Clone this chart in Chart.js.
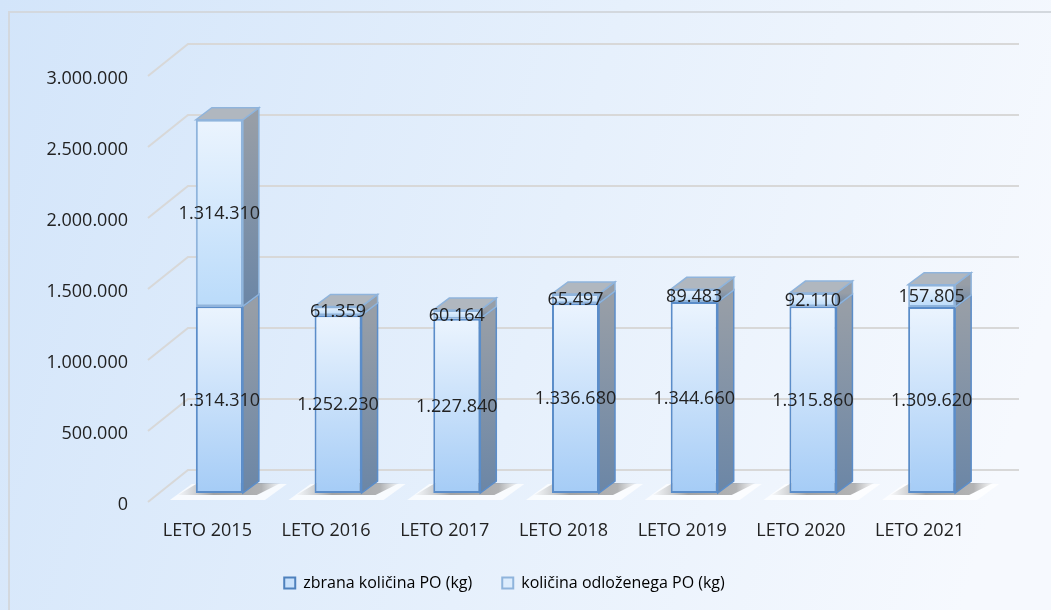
<!DOCTYPE html>
<html>
<head>
<meta charset="utf-8">
<script src="https://cdn.jsdelivr.net/npm/chart.js@4.4.1/dist/chart.umd.min.js"></script>
<style>
  html, body { margin: 0; padding: 0; background: #e3eefb; }
  #wrap { width: 1051px; height: 610px; }
</style>
</head>
<body>
<div id="wrap"><canvas id="myChart" width="1051" height="610"></canvas></div>
<script>
const categories = ['LETO 2015', 'LETO 2016', 'LETO 2017', 'LETO 2018', 'LETO 2019', 'LETO 2020', 'LETO 2021'];
const zbrana = [1314310, 1252230, 1227840, 1336680, 1344660, 1315860, 1309620];
const odlozeno = [1314310, 61359, 60164, 65497, 89483, 92110, 157805];
const yTicks = [0, 500000, 1000000, 1500000, 2000000, 2500000, 3000000];

// depth of the fake 3d
const DX = 16, DY = -12;

function fmt(v) {
  return String(v).replace(/\B(?=(\d{3})+(?!\d))/g, '.');
}

function segFill(c, top, bottom) {
  const chart = c.chart;
  const y = chart.scales.y;
  if (!chart.chartArea || !y) return bottom;
  const i = c.dataIndex;
  let lo = 0, hi = zbrana[i];
  if (c.datasetIndex === 1) { lo = zbrana[i]; hi = zbrana[i] + odlozeno[i]; }
  const g = chart.ctx.createLinearGradient(0, y.getPixelForValue(hi), 0, y.getPixelForValue(lo));
  g.addColorStop(0, top);
  g.addColorStop(1, bottom);
  return g;
}

const bgPlugin = {
  id: 'bg',
  afterLayout(chart) {
    // legend sits a bit right of centre in the original
    if (chart.legend) { chart.legend.left += 9; chart.legend.right += 9; }
  },
  beforeDraw(chart) {
    const ctx = chart.ctx;
    const g = ctx.createLinearGradient(0, 0, 1051, 300);
    g.addColorStop(0, '#d3e5fa');
    g.addColorStop(0.55, '#e6f0fc');
    g.addColorStop(1, '#f6f9fe');
    ctx.save();
    ctx.fillStyle = g;
    ctx.fillRect(0, 0, chart.width, chart.height);
    ctx.strokeStyle = '#d3d8de';
    ctx.lineWidth = 2;
    ctx.strokeRect(9, 12, chart.width + 20, chart.height + 20);
    ctx.restore();
  }
};

const box3d = {
  id: 'box3d',
  beforeDatasetsDraw(chart) {
    const ctx = chart.ctx;
    const a = chart.chartArea;
    const y = chart.scales.y;
    ctx.save();
    // back wall grid
    ctx.strokeStyle = '#d8d8d8';
    ctx.lineWidth = 2;
    y.ticks.forEach(t => {
      const py = y.getPixelForValue(t.value);
      ctx.beginPath();
      ctx.moveTo(a.left - 12, py + 9);
      ctx.lineTo(a.left + 28, py - 23);
      ctx.lineTo(a.right + 28, py - 23);
      ctx.stroke();
    });
    // floor shadows
    const m0 = chart.getDatasetMeta(0);
    m0.data.forEach(el => {
      const l = el.x - el.width / 2, r = el.x + el.width / 2, b = el.base;
      ctx.fillStyle = 'rgba(255,255,255,0.75)';
      ctx.beginPath();
      ctx.moveTo(l - 26, b + 7);
      ctx.lineTo(r + 22, b + 7);
      ctx.lineTo(r + 44, b - 9);
      ctx.lineTo(l - 4, b - 9);
      ctx.closePath();
      ctx.fill();
      const sg = ctx.createLinearGradient(l - 20, 0, r + 40, 0);
      sg.addColorStop(0, 'rgba(120,120,120,0)');
      sg.addColorStop(0.35, 'rgba(90,90,90,0.55)');
      sg.addColorStop(0.8, 'rgba(90,90,90,0.45)');
      sg.addColorStop(1, 'rgba(120,120,120,0)');
      ctx.fillStyle = sg;
      ctx.beginPath();
      ctx.moveTo(l - 18, b + 2);
      ctx.lineTo(r + 14, b + 2);
      ctx.lineTo(r + 38, b - 10);
      ctx.lineTo(l + 2, b - 10);
      ctx.closePath();
      ctx.fill();
    });
    // side and top faces
    const n = chart.data.datasets.length;
    for (let d = 0; d < n; d++) {
      const meta = chart.getDatasetMeta(d);
      meta.data.forEach(el => {
        const l = el.x - el.width / 2, r = el.x + el.width / 2;
        const t = el.y, b = el.base;
        const sg = ctx.createLinearGradient(0, t, 0, b);
        sg.addColorStop(0, '#979ea7');
        sg.addColorStop(1, '#6b86a6');
        ctx.fillStyle = sg;
        ctx.strokeStyle = d === 0 ? '#5b8dc9' : '#8fb4dc';
        ctx.lineWidth = 1.5;
        ctx.beginPath();
        ctx.moveTo(r, t);
        ctx.lineTo(r + DX, t + DY);
        ctx.lineTo(r + DX, b + DY);
        ctx.lineTo(r, b);
        ctx.closePath();
        ctx.fill();
        ctx.stroke();
        if (d === n - 1) {
          ctx.fillStyle = '#b0b7bf';
          ctx.strokeStyle = '#8fb4dc';
          ctx.beginPath();
          ctx.moveTo(l, t);
          ctx.lineTo(l + DX, t + DY);
          ctx.lineTo(r + DX, t + DY);
          ctx.lineTo(r, t);
          ctx.closePath();
          ctx.fill();
          ctx.stroke();
        }
      });
    }
    ctx.restore();
  },
  afterDatasetsDraw(chart) {
    const ctx = chart.ctx;
    ctx.save();
    ctx.font = "18px 'Open Sans', sans-serif";
    ctx.fillStyle = '#222';
    ctx.textAlign = 'center';
    ctx.textBaseline = 'middle';
    chart.data.datasets.forEach((ds, d) => {
      chart.getDatasetMeta(d).data.forEach((el, i) => {
        ctx.fillText(fmt(ds.data[i]), el.x, (el.y + el.base) / 2 + 1);
      });
    });
    ctx.restore();
  }
};

Chart.defaults.font.family = "'Open Sans', sans-serif";
Chart.defaults.color = '#222';

new Chart('myChart', {
  type: 'bar',
  data: {
    labels: categories,
    datasets: [{
      label: 'zbrana količina PO (kg)',
      data: zbrana,
      backgroundColor: c => segFill(c, '#ebf4fe', '#a5ccf6'),
      borderColor: '#5b8dc9',
      borderWidth: 2,
      borderSkipped: false,
      barPercentage: 0.396,
      categoryPercentage: 1
    }, {
      label: 'količina odloženega PO (kg)',
      data: odlozeno,
      backgroundColor: c => segFill(c, '#ebf4fe', '#badbfa'),
      borderColor: '#8fb4dc',
      borderWidth: 2,
      borderSkipped: false,
      barPercentage: 0.396,
      categoryPercentage: 1
    }]
  },
  options: {
    responsive: false,
    animation: false,
    devicePixelRatio: 1,
    layout: { padding: { top: 67, right: 60, bottom: 9, left: 0 } },
    scales: {
      x: {
        stacked: true,
        grid: { display: false },
        border: { display: false },
        ticks: { font: { size: 18 }, padding: 19, labelOffset: -12, maxRotation: 0 },
        afterFit: s => { s.height = 52; }
      },
      y: {
        stacked: true,
        min: 0,
        max: 3000000,
        grid: { display: false },
        border: { display: false },
        afterBuildTicks: s => { s.ticks = yTicks.map(v => ({ value: v })); },
        ticks: { font: { size: 18 }, padding: 24, labelOffset: 12, callback: v => fmt(v) },
        afterFit: s => { s.width = 160; }
      }
    },
    plugins: {
      tooltip: { enabled: false },
      legend: {
        position: 'bottom',
        labels: {
          font: { size: 16 },
          color: '#222',
          boxWidth: 11,
          boxHeight: 11,
          padding: 30,
          generateLabels: chart => chart.data.datasets.map((ds, i) => ({
            text: ds.label,
            fillStyle: i === 0 ? '#c9e1fb' : '#dcecfd',
            strokeStyle: i === 0 ? '#4f81bd' : '#8fb4dc',
            lineWidth: 2,
            datasetIndex: i,
            hidden: false
          }))
        }
      }
    }
  },
  plugins: [bgPlugin, box3d]
});
</script>
</body>
</html>
